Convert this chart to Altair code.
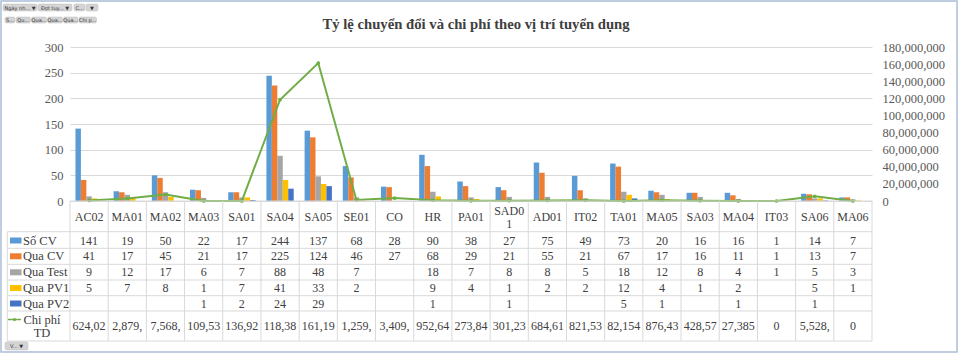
import altair as alt
import pandas as pd

# ---------------- data ----------------
categories = ["AC02", "MA01", "MA02", "MA03", "SA01", "SA04", "SA05", "SE01", "CO", "HR",
              "PA01", "SAD01", "AD01", "IT02", "TA01", "MA05", "SA03", "MA04", "IT03", "SA06", "MA06"]
so_cv = [141, 19, 50, 22, 17, 244, 137, 68, 28, 90, 38, 27, 75, 49, 73, 20, 16, 16, 1, 14, 7]
qua_cv = [41, 17, 45, 21, 17, 225, 124, 46, 27, 68, 29, 21, 55, 21, 67, 17, 16, 11, 1, 13, 7]
qua_test = [9, 12, 17, 6, 7, 88, 48, 7, None, 18, 7, 8, 8, 5, 18, 12, 8, 4, 1, 5, 3]
qua_pv1 = [5, 7, 8, 1, 7, 41, 33, 2, None, 9, 4, 1, 2, 2, 12, 4, 1, 2, None, 5, 1]
qua_pv2 = [None, None, None, 1, 2, 24, 29, None, None, 1, None, 1, None, None, 5, 1, None, 1, None, 1, None]
chi_phi_td = [624020, 2879000, 7568000, 109530, 136920, 118380000, 161190000, 1259000, 3409000,
              952640, 273840, 301230, 684610, 821530, 82154, 876430, 428570, 27385, 0, 5528000, 0]

series_names = ["Số CV", "Qua CV", "Qua Test", "Qua PV1", "Qua PV2"]
series_values = [so_cv, qua_cv, qua_test, qua_pv1, qua_pv2]
series_colors = ["#5B9BD5", "#ED7D31", "#A5A5A5", "#FFC000", "#4472C4"]
line_name_lines = ["Chi phí", "TD"]
line_color = "#70AD47"

title_text = "Tỷ lệ chuyển đổi và chi phí theo vị trí tuyển dụng"
left_ticks = [0, 50, 100, 150, 200, 250, 300]
right_ticks = [0, 20000000, 40000000, 60000000, 80000000, 100000000, 120000000, 140000000, 160000000, 180000000]

# ---------------- tables ----------------
rows = []
for name, vals in zip(series_names, series_values):
    for c, v in zip(categories, vals):
        if v is not None:
            rows.append({"cat": c, "series": name, "value": v})
bars_df = pd.DataFrame(rows)
line_df = pd.DataFrame({"cat": categories, "chi": chi_phi_td})
cat_df = pd.DataFrame({"cat": categories})

# ---------------- layout (pixels, relative to plot origin at 70,47) ----------------
W, H = 802, 154
OX, OY = 70, 47
FONT = "Liberation Serif"
TXT = "#404040"
GRID = "#d9d9d9"

def rx(a):
    return a - OX

def ry(a):
    return a - OY

x_scale = alt.Scale(domain=categories, paddingInner=0, paddingOuter=0)
X = alt.X("cat:N", sort=categories, scale=x_scale, axis=None)

bars = alt.Chart(bars_df).mark_bar().encode(
    x=X,
    xOffset=alt.XOffset("series:N", sort=series_names,
                        scale=alt.Scale(domain=series_names, paddingInner=0, paddingOuter=1)),
    y=alt.Y("value:Q", scale=alt.Scale(domain=[0, 300]),
            axis=alt.Axis(values=left_ticks, title=None, domain=False, ticks=False,
                          labelPadding=7, labelFont=FONT, labelFontSize=12.5,
                          labelColor="#595959", gridColor=GRID, grid=True)),
    color=alt.Color("series:N", sort=series_names,
                    scale=alt.Scale(domain=series_names, range=series_colors), legend=None),
)

line = alt.Chart(line_df).mark_line(
    color=line_color, strokeWidth=2,
    point=alt.OverlayMarkDef(color=line_color, filled=True, size=14),
).encode(
    x=X,
    y=alt.Y("chi:Q", scale=alt.Scale(domain=[0, 180000000]),
            axis=alt.Axis(orient="right", values=right_ticks, format=",.0f", title=None,
                          domain=False, ticks=False, grid=False, labelPadding=10,
                          labelFont=FONT, labelFontSize=12.5, labelColor="#595959")),
)

# ----- data table -----
layers = []

# horizontal lines of table
h_lines_abs = [231.7, 248.3, 264.3, 280.0, 295.7, 311.0, 341.0]
for yy in h_lines_abs:
    layers.append(alt.Chart(cat_df.head(1)).mark_rule(color=GRID, strokeWidth=1).encode(
        x=alt.value(rx(7.3)), x2=alt.value(W), y=alt.value(ry(yy))))
# axis line at bottom of plot
layers.append(alt.Chart(cat_df.head(1)).mark_rule(color=GRID, strokeWidth=1).encode(
    x=alt.value(0), x2=alt.value(W), y=alt.value(H)))
# vertical lines
layers.append(alt.Chart(cat_df).mark_rule(color=GRID, strokeWidth=1).encode(
    x=alt.X("cat:N", sort=categories, scale=x_scale, axis=None, bandPosition=0),
    y=alt.value(H), y2=alt.value(ry(341.0))))
layers.append(alt.Chart(cat_df.head(1)).mark_rule(color=GRID, strokeWidth=1).encode(
    x=alt.value(W), y=alt.value(H), y2=alt.value(ry(341.0))))
layers.append(alt.Chart(cat_df.head(1)).mark_rule(color=GRID, strokeWidth=1).encode(
    x=alt.value(rx(7.3)), y=alt.value(ry(231.7)), y2=alt.value(ry(341.0))))

# header (category labels): short labels on one line, long ones wrapped onto two
layers.append(alt.Chart(cat_df).transform_filter("length(datum.cat) <= 4").mark_text(
    font=FONT, fontSize=12, color=TXT, baseline="middle", align="center").encode(
    x=X, y=alt.value(ry(217.0)), text="cat:N"))
layers.append(alt.Chart(cat_df).transform_filter("length(datum.cat) > 4").transform_calculate(
    label="substring(datum.cat, 0, 4)"
).mark_text(font=FONT, fontSize=12, color=TXT, baseline="middle", align="center").encode(
    x=X, y=alt.value(ry(211.0)), text="label:N"))
layers.append(alt.Chart(cat_df).transform_filter("length(datum.cat) > 4").transform_calculate(
    label="substring(datum.cat, 4)"
).mark_text(font=FONT, fontSize=12, color=TXT, baseline="middle", align="center").encode(
    x=X, y=alt.value(ry(223.5)), text="label:N"))

row_centers_abs = [240.5, 256.3, 272.3, 288.0, 303.5]
for name, color, yc in zip(series_names, series_colors, row_centers_abs):
    layers.append(alt.Chart(bars_df).transform_filter(alt.datum.series == name).mark_text(
        font=FONT, fontSize=12, color=TXT, baseline="middle", align="center").encode(
        x=X, y=alt.value(ry(yc)), text="value:Q"))
    layers.append(alt.Chart(cat_df.head(1)).mark_rect(color=color).encode(
        x=alt.value(rx(10)), x2=alt.value(rx(21.5)), y=alt.value(ry(yc - 3)), y2=alt.value(ry(yc + 3))))
    layers.append(alt.Chart(pd.DataFrame({"t": [name]})).mark_text(
        font=FONT, fontSize=12.5, color=TXT, baseline="middle", align="left").encode(
        x=alt.value(rx(23)), y=alt.value(ry(yc)), text="t:N"))

chi_center = 326.3
layers.append(alt.Chart(line_df).transform_calculate(
    label="substring(format(datum.chi, ','), 0, 6)"
).mark_text(font=FONT, fontSize=12, color=TXT, baseline="middle", align="center").encode(
    x=X, y=alt.value(ry(chi_center)), text="label:N"))
for txt, yy in zip(line_name_lines, [319.5, 332.5]):
    layers.append(alt.Chart(pd.DataFrame({"t": [txt]})).mark_text(
        font=FONT, fontSize=12.5, color=TXT, baseline="middle", align="center").encode(
        x=alt.value(rx(42)), y=alt.value(ry(yy)), text="t:N"))
layers.append(alt.Chart(cat_df.head(1)).mark_rule(color=line_color, strokeWidth=1.5).encode(
    x=alt.value(rx(8)), x2=alt.value(rx(21)), y=alt.value(ry(319.5))))
layers.append(alt.Chart(cat_df.head(1)).mark_point(color=line_color, filled=True, size=10, opacity=1).encode(
    x=alt.value(rx(14.5)), y=alt.value(ry(319.5))))

# title
layers.append(alt.Chart(pd.DataFrame({"t": [title_text]})).mark_text(
    font=FONT, fontSize=14.7, fontWeight="bold", color=TXT, baseline="middle", align="center").encode(
    x=alt.value(rx(476)), y=alt.value(ry(24.5)), text="t:N"))

# outer frame
layers.append(alt.Chart(cat_df.head(1)).mark_rect(fill=None, stroke="#A9BFD6", strokeWidth=1.5).encode(
    x=alt.value(rx(1)), x2=alt.value(rx(957)), y=alt.value(ry(1)), y2=alt.value(ry(352))))

# pivot field buttons (decoration)
buttons = [
    ("Ngày nh... ▼", 3, 4, 37, 11),
    ("Đợt tuy... ▼", 38, 4, 72, 11),
    ("C...", 74, 4, 85, 11),
    ("▼", 86, 4, 98, 11),
    ("S...", 5, 17, 15, 23),
    ("Qu...", 16, 17, 30.5, 23),
    ("Qua...", 31.5, 17, 46.5, 23),
    ("Qua...", 47.5, 17, 62.5, 23),
    ("Qua...", 63.5, 17, 78, 23),
    ("Chi p...", 79, 17, 96.5, 23),
    ("V... ▼", 5, 342, 28, 350),
]
for label, x0, y0, x1, y1 in buttons:
    layers.append(alt.Chart(cat_df.head(1)).mark_rect(
        fill="#D4D4D4", stroke="#BFBFBF", strokeWidth=0.5, cornerRadius=1.5).encode(
        x=alt.value(rx(x0)), x2=alt.value(rx(x1)), y=alt.value(ry(y0)), y2=alt.value(ry(y1))))
    layers.append(alt.Chart(pd.DataFrame({"t": [label]})).mark_text(
        font="DejaVu Sans", fontSize=5, color="#333333", baseline="middle", align="center").encode(
        x=alt.value(rx((x0 + x1) / 2)), y=alt.value(ry((y0 + y1) / 2)), text="t:N"))

chart = alt.layer(bars, line, *layers).resolve_scale(y="independent").properties(
    width=W, height=H,
    padding={"left": OX, "top": OY, "right": 960 - OX - W, "bottom": 355 - OY - H},
    autosize=alt.AutoSizeParams(type="none"),
    background="white",
).configure_view(stroke=None)

chart.save("out.html", embed_options={"renderer": "svg", "actions": False})
